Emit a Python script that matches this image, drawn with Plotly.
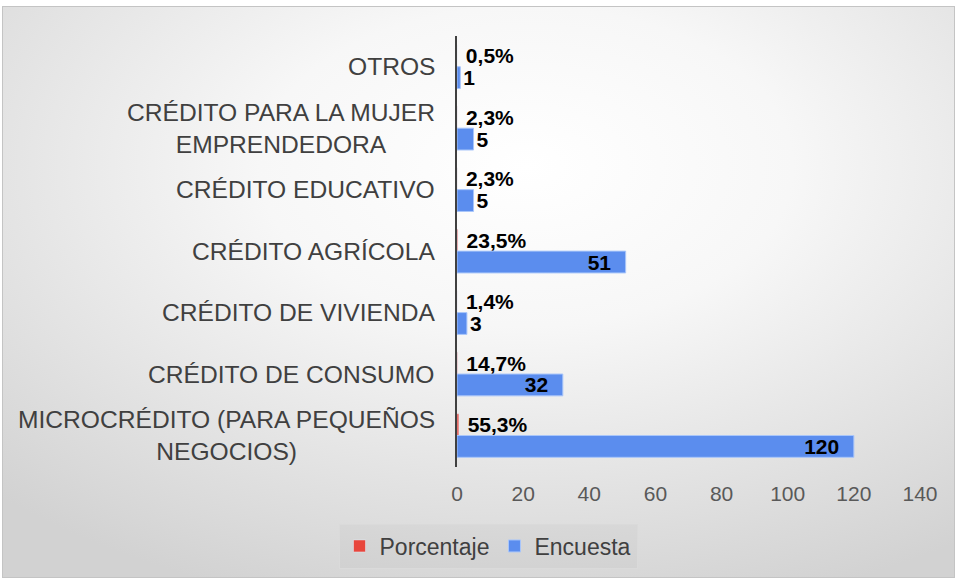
import base64
import plotly.graph_objects as go

categories = [
    "OTROS",
    "CRÉDITO PARA LA MUJER<br>EMPRENDEDORA",
    "CRÉDITO EDUCATIVO",
    "CRÉDITO AGRÍCOLA",
    "CRÉDITO DE VIVIENDA",
    "CRÉDITO DE CONSUMO",
    "MICROCRÉDITO (PARA PEQUEÑOS<br>NEGOCIOS)",
]
porcentaje = [0.005, 0.023, 0.023, 0.235, 0.014, 0.147, 0.553]
encuesta = [1, 5, 5, 51, 3, 32, 120]
x_ticks = [0, 20, 40, 60, 80, 100, 120, 140]

W, H = 957, 580
L, R, T, B = 457, 37, 36, 113
pw, ph = W - L - R, H - T - B

FONT = "Liberation Sans, Arial, sans-serif"

pct_text = ["\u00a0" + f"{v*100:.1f}%".replace(".", ",") for v in porcentaje]
enc_text = [f"{v}\u00a0\u00a0" if v >= 20 else f"{v}" for v in encuesta]
enc_pos = ["inside" if v >= 20 else "outside" for v in encuesta]

svg = f'''<svg xmlns="http://www.w3.org/2000/svg" width="{W}" height="{H}" viewBox="0 0 {W} {H}">
<defs><radialGradient id="g" cx="55%" cy="28%" r="80%" fx="55%" fy="28%">
<stop offset="0%" stop-color="#ffffff"/><stop offset="35%" stop-color="#f7f7f7"/><stop offset="100%" stop-color="#d2d2d2"/></radialGradient></defs>
<rect x="0" y="0" width="{W}" height="{H}" fill="#ffffff"/>
<rect x="2.5" y="6.5" width="{W-5}" height="{H-9}" fill="url(#g)" stroke="#c4c4c4" stroke-width="1"/>
</svg>'''
src = "data:image/svg+xml;base64," + base64.b64encode(svg.encode()).decode()

fig = go.Figure()
fig.add_trace(go.Bar(
    name="Porcentaje", y=list(range(len(categories))), x=porcentaje, orientation="h",
    marker=dict(color="#E8463C"), text=pct_text, textposition="outside", constraintext="none",
    textfont=dict(family=FONT, size=21, color="#000000", weight="bold"),
    cliponaxis=False, hoverinfo="skip",
))
fig.add_trace(go.Bar(
    name="Encuesta", y=list(range(len(categories))), x=encuesta, orientation="h",
    marker=dict(color="#5B8DEE", line=dict(color="#A9C6FA", width=1)),
    text=enc_text, textposition=enc_pos, insidetextanchor="end", constraintext="none",
    textfont=dict(family=FONT, size=21, color="#000000", weight="bold"),
    cliponaxis=False, hoverinfo="skip",
))

for i, c in enumerate(categories):
    fig.add_annotation(
        x=(437 - L) / pw, xref="paper", y=i, yref="y", text=c, showarrow=False,
        xanchor="right", yanchor="middle", align="center",
        font=dict(family=FONT, size=24.6, color="#404040"),
    )

fig.update_layout(
    width=W, height=H, margin=dict(l=L, r=R, t=T, b=B),
    paper_bgcolor="#ffffff", plot_bgcolor="rgba(0,0,0,0)",
    barmode="group", bargap=0.29, bargroupgap=0,
    showlegend=True,
    legend=dict(orientation="h", x=(488 - L) / pw, xanchor="center",
                y=-(546 - (T + ph)) / ph, yanchor="middle",
                bgcolor="rgba(0,0,0,0.025)", bordercolor="#dadada", borderwidth=1,
                font=dict(family=FONT, size=23, color="#404040"),
                itemwidth=30, traceorder="normal"),
    xaxis=dict(range=[0, 140], tickvals=x_ticks, ticktext=[str(t) for t in x_ticks],
               showgrid=False, zeroline=False, showline=False, ticks="",
               ticklabelstandoff=12,
               tickfont=dict(family=FONT, size=21, color="#595959")),
    yaxis=dict(autorange="reversed", showticklabels=False, showgrid=False,
               zeroline=False, showline=True, linecolor="#404040", linewidth=2, ticks=""),
    images=[dict(source=src, xref="paper", yref="paper", x=-L / pw, y=1 + T / ph,
                 sizex=W / pw, sizey=H / ph, sizing="stretch", layer="below",
                 xanchor="left", yanchor="top")],
)

fig.write_html("out.html", config={"displayModeBar": False},
               post_script="document.body.style.margin='0';")
